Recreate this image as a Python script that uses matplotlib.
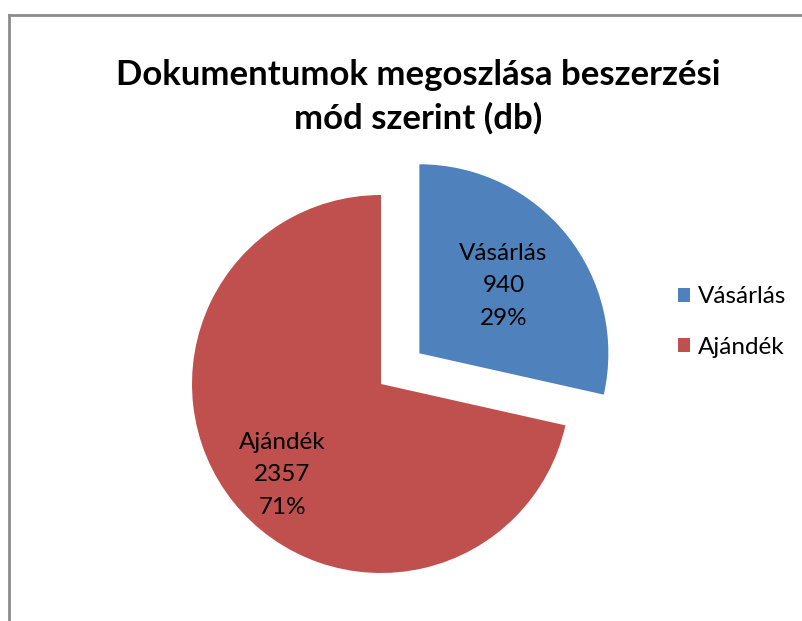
#Pie chart: documents by acquisition mode (db)
import numpy as np
import matplotlib.pyplot as plt
from matplotlib.lines import Line2D

labels = ["Vásárlás", "Ajándék"]
values = [940, 2357]
colors = ["#4F81BD", "#C0504D"]
title = "Dokumentumok megoszlása beszerzési\nmód szerint (db)"

plt.rcParams['font.family'] = ['Lato', 'DejaVu Sans']

W, H = 802, 621
fig = plt.figure(figsize=(W/100, H/100), dpi=100)

#frame of the chart (only left and top show)
gray = "#8c8c8c"
fig.add_artist(Line2D([9/W, 9/W], [0, 1-15/H], transform=fig.transFigure, color=gray, lw=2))
fig.add_artist(Line2D([9/W, 1], [1-15/H, 1-15/H], transform=fig.transFigure, color=gray, lw=2))

#axes placed so the pie centre sits at (381, 384) px with radius 189 px
r = 189
cx, cy = 381, H - 384
half = 1.25 * r
ax = fig.add_axes([(cx-half)/W, (cy-half)/H, 2*half/W, 2*half/H])

total = sum(values)
wedges, _ = ax.pie(values, colors=colors, startangle=90, counterclock=False,
                   explode=[0.26, 0], wedgeprops=dict(linewidth=0))
ax.set_xlim(-1.25, 1.25)
ax.set_ylim(-1.25, 1.25)

#data labels inside the slices (distance from centre, small turn in degrees)
dist = [0.57, 0.71]
turn = [0, 4]
for w, lab, v, d, t in zip(wedges, labels, values, dist, turn):
    ang = np.deg2rad((w.theta1 + w.theta2) / 2 + t)
    x = w.center[0] + d * np.cos(ang)
    y = w.center[1] + d * np.sin(ang)
    ax.text(x, y, f"{lab}\n{v}\n{round(100*v/total)}%", ha='center', va='center',
            fontsize=17.5, linespacing=1.65, color='black')

fig.text(418/W, 1-97/H, title, ha='center', va='center', fontsize=25,
         fontweight='bold', linespacing=1.4)

fig.legend(wedges, labels, loc='center left', bbox_to_anchor=(678/W, 1-322/H),
           frameon=False, fontsize=17.5, handlelength=0.5, handleheight=0.5,
           handletextpad=0.33, labelspacing=1.2, borderpad=0, borderaxespad=0)

fig.savefig("out.png", dpi=100, facecolor='white')
